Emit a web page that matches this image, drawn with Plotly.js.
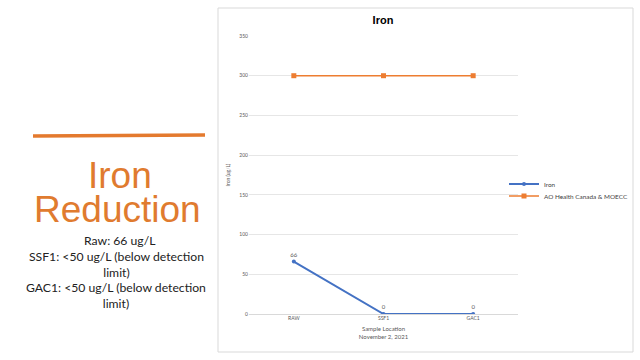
<!DOCTYPE html>
<html>
<head>
<meta charset="utf-8">
<script src="https://cdn.plot.ly/plotly-3.0.1.min.js"></script>
<style>html,body{margin:0;padding:0;background:#fff;}#chart{width:640px;height:360px;}</style>
</head>
<body>
<div id="chart"></div>
<script>
const categories = ["RAW", "SSF1", "GAC1"];
const ironValues = [66, 0, 0];
const guidelineValues = [300, 300, 300];
const yTicks = [0, 50, 100, 150, 200, 250, 300, 350];
const seriesNames = ["Iron", "AO Health Canada & MOECC"];
const sideTitle = ["Iron", "Reduction"];
const sideNotes = ["Raw: 66 ug/L", "SSF1: <50 ug/L (below detection<br>limit)", "GAC1: <50 ug/L (below detection<br>limit)"];

const blue = "#4472C4", orange = "#ED7D31";
const L = 249, R = 518, T = 36, B = 314;
const px = v => (v - L) / (R - L);
const py = v => (B - v) / (B - T);

const traces = [
  {x: categories, y: ironValues, name: seriesNames[0], type: "scatter", mode: "lines+markers+text",
   legend: "legend",
   text: ironValues.map(String), textposition: "top center",
   textfont: {family: "Lato, sans-serif", size: 6, color: "#595959"},
   line: {color: blue, width: 2}, marker: {color: blue, size: 4, symbol: "circle"}},
  {x: categories, y: guidelineValues, name: seriesNames[1], type: "scatter", mode: "lines+markers",
   legend: "legend2",
   line: {color: orange, width: 1.5}, marker: {color: orange, size: 5, symbol: "square"}}
];

const legendBase = {xref: "container", yref: "container", x: 504 / 640, xanchor: "left", yanchor: "middle",
  font: {family: "Lato, sans-serif", size: 6.4, color: "#404040"},
  itemwidth: 30, tracegroupgap: 0, bgcolor: "rgba(0,0,0,0)"};

const layout = {
  width: 640, height: 360,
  paper_bgcolor: "#fff", plot_bgcolor: "#fff",
  margin: {l: L, r: 640 - R, t: T, b: 360 - B, autoexpand: false},
  showlegend: true,
  legend: Object.assign({}, legendBase, {y: 1 - 184 / 360}),
  legend2: Object.assign({}, legendBase, {y: 1 - 196 / 360}),
  title: {text: "<b>Iron</b>", x: 383 / 640, xref: "container", y: 1 - 20 / 360, yref: "container", xanchor: "center", yanchor: "middle",
          font: {family: "Liberation Sans, Arial, sans-serif", size: 11, color: "#000"}},
  xaxis: {type: "category", range: [-0.5, 2.5], showgrid: false, zeroline: false, showline: false,
          ticks: "", tickfont: {family: "Lato, sans-serif", size: 5, color: "#595959"},
          title: {text: "Sample Location<br>November 2, 2021", standoff: 6, font: {family: "Lato, sans-serif", size: 6, color: "#595959"}}},
  yaxis: {range: [0, 350], tickvals: yTicks, showgrid: true, gridcolor: "#e6e6e6", gridwidth: 1,
          zeroline: true, zerolinecolor: "#d9d9d9", showline: false, ticks: "",
          tickfont: {family: "Lato, sans-serif", size: 5, color: "#595959"},
          title: {text: "Iron (ug/L)", standoff: 8, font: {family: "Lato, sans-serif", size: 5, color: "#595959"}}},
  shapes: [
    {type: "rect", xref: "paper", yref: "paper", layer: "below",
     x0: px(218), x1: px(633), y0: py(352), y1: py(8),
     line: {color: "#d9d9d9", width: 1}, fillcolor: "#fff"},
    {type: "path", xref: "paper", yref: "paper", layer: "above",
     path: "M " + px(33) + "," + py(136) + " L " + px(120) + "," + py(135.5) + " L " + px(205) + "," + py(135),
     line: {color: "#E47A2E", width: 3.5}}
  ],
  annotations: [
    {text: sideTitle[0], xref: "paper", yref: "paper", x: px(120), y: py(175), showarrow: false,
     font: {family: "Liberation Sans, Arial, sans-serif", size: 37, color: "#E07B2F"}, xanchor: "center", yanchor: "middle"},
    {text: sideTitle[1], xref: "paper", yref: "paper", x: px(117.5), y: py(209), showarrow: false,
     font: {family: "Liberation Sans, Arial, sans-serif", size: 37, color: "#E07B2F"}, xanchor: "center", yanchor: "middle"},
    {text: sideNotes[0], xref: "paper", yref: "paper", x: px(120), y: py(240), showarrow: false,
     font: {family: "Lato, sans-serif", size: 12.2, color: "#222"}, xanchor: "center", yanchor: "middle"},
    {text: sideNotes[1], xref: "paper", yref: "paper", x: px(116), y: py(264.5), showarrow: false,
     font: {family: "Lato, sans-serif", size: 12.2, color: "#222"}, xanchor: "center", yanchor: "middle", align: "center"},
    {text: sideNotes[2], xref: "paper", yref: "paper", x: px(116), y: py(295.5), showarrow: false,
     font: {family: "Lato, sans-serif", size: 12.2, color: "#222"}, xanchor: "center", yanchor: "middle", align: "center"}
  ]
};

Plotly.newPlot("chart", traces, layout, {staticPlot: true, displayModeBar: false});
</script>
</body>
</html>
